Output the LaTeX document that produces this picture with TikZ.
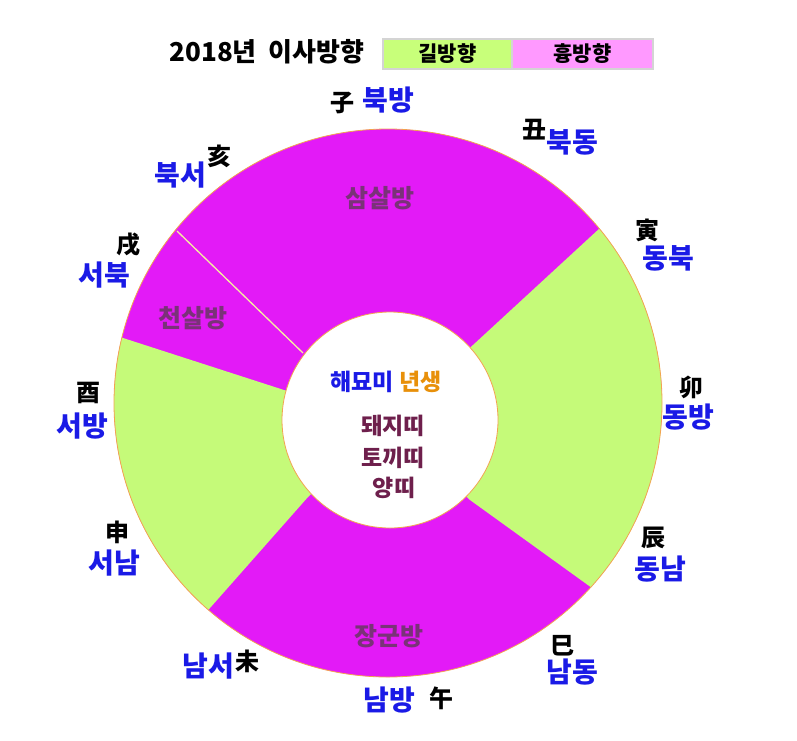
\documentclass[tikz,border=0pt]{standalone}
\usepackage{fontspec}
\setmainfont{Noto Sans CJK KR}
\definecolor{mag}{HTML}{E31AF7}
\definecolor{grn}{HTML}{C5FA79}
\definecolor{lgrn}{HTML}{C8FF7A}
\definecolor{lpink}{HTML}{FF99FF}
\definecolor{lgray}{HTML}{D4D4D4}
\definecolor{dirc}{HTML}{1A1AE6}
\definecolor{sect}{HTML}{7A3278}
\definecolor{ttt}{HTML}{6E1F4C}
\definecolor{orn}{HTML}{E8900A}
\definecolor{rim}{HTML}{F2A450}
\definecolor{pale}{HTML}{F5F0A0}
\begin{document}
\begin{tikzpicture}[x=1pt,y=-1pt,
  dirl/.style={font=\fontsize{28}{32}\selectfont\bfseries, text=dirc, inner sep=0pt},
  han/.style={font=\fontsize{24}{27}\selectfont\bfseries, text=black, inner sep=0pt},
  secl/.style={font=\fontsize{25}{28}\selectfont\bfseries, text=sect, inner sep=0pt},
  midl/.style={font=\fontsize{23}{26}\selectfont\bfseries, inner sep=0pt},
  legbox/.style={draw=lgray, line width=1.5pt, minimum height=30pt, inner sep=0pt,
    font=\fontsize{21}{24}\selectfont\bfseries, text=black},
  rimline/.style={draw=rim, line width=0.8pt}]
\useasboundingbox (0,0) rectangle (797,740);
% title and legend
\node[inner sep=0pt, font=\fontsize{26}{30}\selectfont\bfseries] (title) at (267,52) {2018년\ \ 이사방향};
\node[legbox, fill=lgrn, minimum width=129pt] (gil) at (447.5,54) {길방향};
\node[legbox, fill=lpink, minimum width=141pt] (hyung) at (582.5,54) {흉방향};
% ring
\coordinate (C) at (390,420);
\begin{scope}
  \clip (388,403) circle (274pt);
  \fill[mag] (388,403) circle (274pt);
  \fill[grn] (C) -- (473,345) -- (727,111) -- (900,100) -- (900,700) -- (714,676) -- (470,500) -- cycle;
  \fill[grn] (C) -- (308,497) -- (112,719) -- (-100,719) -- (-100,284) -- (-44,284) -- (284,390) -- cycle;
  \coordinate (t1) at (303,353);
  \coordinate (t2) at (177,231);
  \draw[pale, line width=1.3pt] (t1) -- (t2);
\end{scope}
\fill[white] (C) circle (108pt);
\draw[rimline] (C) circle (108pt);
\draw[rimline] (388,403) circle (274pt);
% sector labels
\node[secl] (s1) at (380,198) {삼살방};
\node[secl] (s2) at (193,318) {천살방};
\node[secl] (s3) at (389,636) {장군방};
% centre
\node[midl, text=dirc, anchor=east] (m1) at (394,382) {해묘미};
\node[midl, text=orn, anchor=west] (m2) at (399,382) {년생};
\node[midl, text=ttt] (m3) at (393,426) {돼지띠};
\node[midl, text=ttt] (m4) at (393,458) {토끼띠};
\node[midl, text=ttt] (m5) at (394,488) {양띠};
% branches
\node[han] (h1) at (342,103) {子};
\node[dirl] (d1) at (388,100) {북방};
\node[han] (h2) at (534,130) {丑};
\node[dirl] (d2) at (572,142) {북동};
\node[han] (h3) at (647,230) {寅};
\node[dirl] (d3) at (668,258) {동북};
\node[han] (h4) at (691,387) {卯};
\node[dirl] (d4) at (688,417) {동방};
\node[han] (h5) at (653,538) {辰};
\node[dirl] (d5) at (660,569) {동남};
\node[han] (h6) at (562,646) {巳};
\node[dirl] (d6) at (572,672) {남동};
\node[han] (h7) at (441,698) {午};
\node[dirl] (d7) at (389,700) {남방};
\node[han] (h8) at (247,661) {未};
\node[dirl] (d8) at (208,666) {남서};
\node[han] (h9) at (117,532) {申};
\node[dirl] (d9) at (114,563) {서남};
\node[han] (h10) at (88,393) {酉};
\node[dirl] (d10) at (82,426) {서방};
\node[han] (h11) at (128,245) {戌};
\node[dirl] (d11) at (104,275) {서북};
\node[han] (h12) at (219,156) {亥};
\node[dirl] (d12) at (180,175) {북서};
\end{tikzpicture}
\end{document}
